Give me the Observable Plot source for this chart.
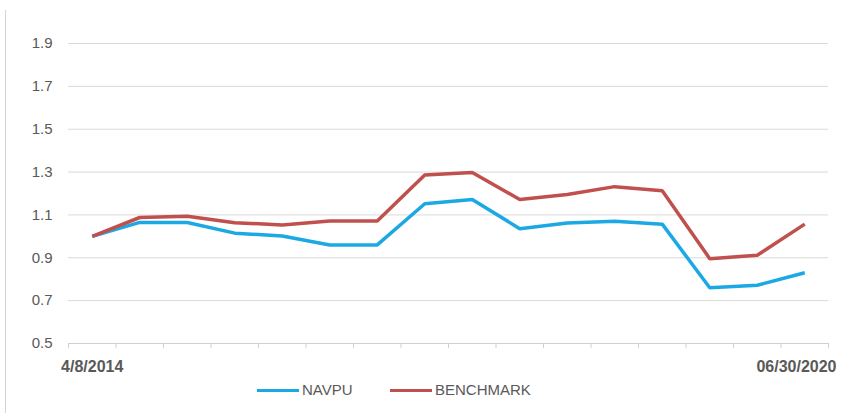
<!DOCTYPE html>
<html>
<head>
<meta charset="utf-8">
<script src="https://cdn.jsdelivr.net/npm/d3@7"></script>
<script src="https://cdn.jsdelivr.net/npm/@observablehq/plot@0.6"></script>
<style>
  html, body { margin: 0; padding: 0; background: #fff; }
  #wrap { position: relative; width: 843px; height: 413px; overflow: hidden; }
  #chart { position: absolute; left: 0; top: 0; }
  #frame { position: absolute; left: 5px; top: 10px; width: 0; height: 403px; border-left: 1px solid #d4d4d4; }
  #legend { position: absolute; left: 0; top: 380px; width: 843px; height: 20px;
            font-family: "Liberation Sans", Arial, sans-serif; font-size: 15px; color: #595959; }
  .item { position: absolute; top: 0; height: 20px; line-height: 20px; white-space: nowrap; }
  .sw { display: inline-block; width: 42px; height: 3px; vertical-align: middle; margin-right: 3px; position: relative; top: -1px; }
</style>
</head>
<body>
<div id="wrap">
  <div id="chart"></div>
  <div id="frame"></div>
  <div id="legend"></div>
</div>
<script>
// Categories (16 periods from 4/8/2014 to 06/30/2020)
const periods = [1, 2, 3, 4, 5, 6, 7, 8, 9, 10, 11, 12, 13, 14, 15, 16];
const xLabels = ["4/8/2014", "06/30/2020"];
const navpu = [1.00, 1.065, 1.065, 1.015, 1.002, 0.96, 0.96, 1.152, 1.172, 1.036, 1.062, 1.07, 1.057, 0.76, 0.772, 0.83];
const benchmark = [1.00, 1.088, 1.094, 1.064, 1.053, 1.072, 1.072, 1.286, 1.298, 1.172, 1.195, 1.232, 1.213, 0.896, 0.912, 1.057];
const yTicks = [0.5, 0.7, 0.9, 1.1, 1.3, 1.5, 1.7, 1.9];
const seriesNames = ["NAVPU", "BENCHMARK"];
const colors = ["#1ca9e3", "#c0504d"];

const rows = [];
periods.forEach((p, i) => {
  rows.push({pos: i + 0.5, value: navpu[i], series: seriesNames[0]});
});
periods.forEach((p, i) => {
  rows.push({pos: i + 0.5, value: benchmark[i], series: seriesNames[1]});
});
const firstLabel = [{pos: 0.5, label: xLabels[0]}];
const lastLabel = [{pos: periods.length, label: xLabels[1]}];

const chart = Plot.plot({
  width: 843,
  height: 378,
  marginTop: 43,
  marginBottom: 35,
  marginLeft: 68,
  marginRight: 15,
  style: {fontFamily: "'Liberation Sans', Arial, sans-serif", fontSize: "15px", color: "#595959", background: "transparent", overflow: "visible"},
  x: {type: "linear", domain: [0, periods.length]},
  y: {domain: [0.5, 1.9]},
  color: {domain: seriesNames, range: colors},
  marks: [
    Plot.gridY({ticks: yTicks, stroke: "#d9d9d9", strokeOpacity: 1}),
    Plot.axisY({ticks: yTicks, tickFormat: d3.format(".1f"), tickSize: 0, tickPadding: 16, label: null, fill: "#595959"}),
    Plot.axisX({ticks: d3.range(periods.length + 1), tickFormat: () => "", tickSize: 5, stroke: "#cfcfcf", label: null}),
    Plot.ruleY([0.5], {stroke: "#cfcfcf"}),
    Plot.line(rows, {x: "pos", y: "value", z: "series", stroke: "series", strokeWidth: 3.5, strokeLinejoin: "miter", strokeLinecap: "butt"}),
    Plot.text(firstLabel, {x: "pos", y: () => 0.5, text: "label", dy: 23, textAnchor: "middle", fontWeight: "bold", fontSize: 16, fill: "#595959"}),
    Plot.text(lastLabel, {x: "pos", y: () => 0.5, text: "label", dy: 23, dx: 8, textAnchor: "end", fontWeight: "bold", fontSize: 16, fill: "#595959"})
  ]
});
document.getElementById("chart").appendChild(chart);

const legend = document.getElementById("legend");
const lefts = [257, 390];
seriesNames.forEach((name, i) => {
  const it = document.createElement("div");
  it.className = "item";
  it.style.left = lefts[i] + "px";
  const sw = document.createElement("span");
  sw.className = "sw";
  sw.style.background = colors[i];
  it.appendChild(sw);
  it.appendChild(document.createTextNode(name));
  legend.appendChild(it);
});
</script>
</body>
</html>
